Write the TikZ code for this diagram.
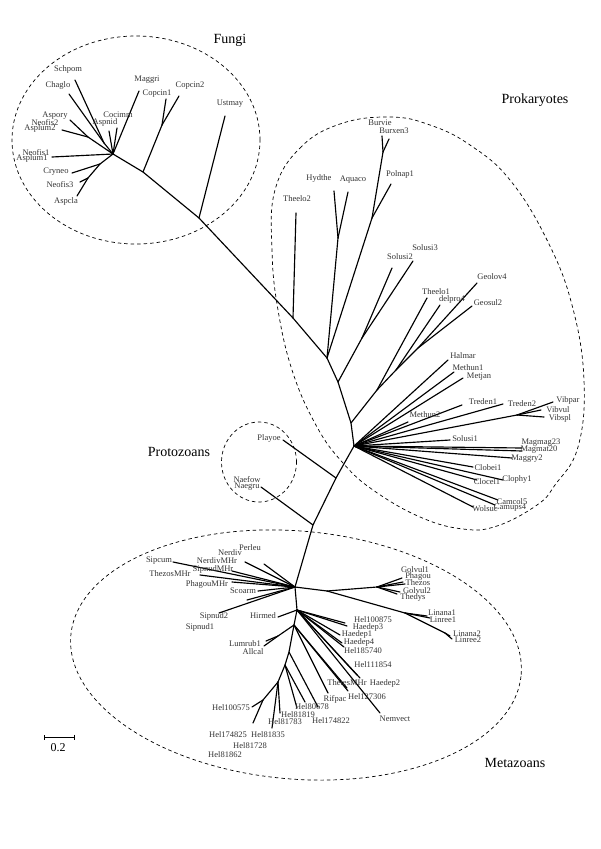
\documentclass[tikz,border=0pt]{standalone}
\usepackage{fontspec}
\setmainfont{Liberation Serif}
\usetikzlibrary{arrows.meta, positioning}
\tikzset{
        branch/.style={line width=1.15pt, line cap=round, line join=round},
        taxon/.style={font=\fontsize{8.5}{9}\selectfont, text=black!80, inner sep=0pt},
        group/.style={font=\fontsize{14}{16}\selectfont, inner sep=0pt},
        clade/.style={line width=0.7pt, dash pattern=on 3.5pt off 3pt}
        }

\begin{document}
\begin{tikzpicture}[x=1pt, y=-1pt]
\useasboundingbox (0,0) rectangle (600,849);

% dashed clade outlines
\draw[clade] (136,140) ellipse [x radius=124pt, y radius=104pt];
\draw[clade] plot[smooth cycle, tension=0.7] coordinates {(275,190) (300,148) (340,124) (390,117)
        (430,125) (470,145) (510,180) (547,240) (572,305) (584,380) (578,447) (555,485) (537,505)
        (497,526) (463,529) (420,517) (373,490) (343,463) (317,427) (293,373) (278,310) (272,250)};
\draw[clade] (259,462) ellipse [x radius=37.5pt, y radius=40pt];
\draw[clade, rotate around={-5:(296,655)}] (296,655) ellipse [x radius=226pt, y radius=124pt];

% group names
\node[group] (fungi) at (230,40) {Fungi};
\node[group] (prok) at (535,100) {Prokaryotes};
\node[group] (proto) at (179,452) {Protozoans};
\node[group] (meta) at (515,763) {Metazoans};

% inner nodes
\coordinate (F0) at (113,154);  \coordinate (F1) at (143,172);  \coordinate (F2) at (199,218);
\coordinate (P1) at (293,318);  \coordinate (P2) at (327,358);  \coordinate (P3) at (338,382);
\coordinate (P4) at (351,423);  \coordinate (P5) at (354,446);
\coordinate (Z1) at (336,478);  \coordinate (Z2) at (313,525);
\coordinate (M1) at (295,587);  \coordinate (M2) at (297,610);  \coordinate (M3) at (294,625);
\coordinate (M4) at (289,652);  \coordinate (M5) at (285,665);  \coordinate (M6) at (278,682);
\coordinate (fa) at (104,143);  \coordinate (fb) at (88,137);   \coordinate (fc) at (100,164);
\coordinate (fd) at (88,178);   \coordinate (fe) at (162,125);
\coordinate (ph) at (338,238);  \coordinate (pp) at (372,218);  \coordinate (pb) at (383,152);
\coordinate (ps) at (362,338);  \coordinate (pt) at (377,390);  \coordinate (pd) at (396,370);
\coordinate (pg) at (418,348);  \coordinate (pv) at (517,415);
\coordinate (ml) at (327,591);  \coordinate (mg) at (377,587);  \coordinate (mn) at (405,613);
\coordinate (mn2) at (445,633); \coordinate (mr) at (278,636);  \coordinate (mx) at (263,700);

% leaves
\foreach \n/\p in {Schpom/{75,80}, Chaglo/{69,94}, Aspory/{70,120}, Asplum2/{62,130},
        Aspnid/{109,131}, Cocimm/{117,128}, Maggri/{139,91}, Neofis1/{52,157}, Cryneo/{72,173},
        Neofis3/{80,182}, Aspcla/{77,196}, Copcin1/{166,99}, Copcin2/{179,96}, Ustmay/{225,116},
        Theelo2/{296,213}, Hydthe/{334,191}, Aquaco/{348,192}, Polnap1/{391,184}, Burvie/{382,136},
        Burxen3/{389,139}, Solusi2/{392,268}, Solusi3/{413,261}, Theelo1/{427,298}, delpro4/{440,305},
        Geolov4/{477,283}, Geosul2/{472,306}, Halmar/{448,360}, Methun1/{454,372}, Metjan/{463,378},
        Treden1/{462,405}, Treden2/{503,404}, Methun2/{408,422}, Vibpar/{553,402}, Vibvul/{541,410},
        Vibspl/{544,417}, Solusi1/{450,440}, Magmag23/{522,448}, Magmat20/{522,451}, Maggry2/{512,458},
        Clobei1/{473,467}, Clophy1/{503,480}, Clocel1/{477,480}, Camcol5/{498,500}, Camups4/{495,505},
        Wolsuc/{473,507}, Playoe/{283,440}, Naegru/{261,487},
        Perleu/{264,564}, NerdivMHr/{245,562}, Sipcum/{173,562}, SipnudMHr/{232,571},
        ThezosMHr/{200,575}, PhagouMHr/{232,582}, Scoarm/{258,591}, Sipnud2/{247,600}, Sipnud1/{219,613},
        Golvul1/{402,578}, Phagou/{403,582}, Thezos/{405,584}, Golvul2/{400,592}, Thedys/{397,594},
        Linana1/{427,616}, Linree1/{430,618}, Linana2/{450,636}, Linree2/{452,639}, Hirmed/{278,617},
        Hel100875/{345,623}, Haedep3/{347,626}, Haedep1/{340,635}, Haedep4/{342,643},
        Hel185740/{344,647}, Hel111854/{357,675}, Haedep2/{360,678}, Nemvect/{380,713},
        ThetesMHr/{347,688}, Hel127306/{348,691}, Rifpac/{328,693}, Lumrub1/{266,641}, Allcal/{264,646},
        Hel174822/{318,707}, Hel80678/{305,702}, Hel81819/{297,708}, Hel81783/{280,713},
        Hel81835/{272,728}, Hel100575/{252,707}, Hel174825/{253,723}}
  \coordinate (t\n) at (\p);

% branches
\draw[branch] (F0) -- (F1) -- (F2) -- (P1) -- (P2) -- (P3) -- (P4) -- (P5) -- (Z1) -- (Z2)
        -- (M1) -- (M2) -- (M3) -- (M4) -- (M5) -- (M6);
\foreach \a/\b in {F0/fa, fa/tSchpom, fa/tChaglo, F0/fb, fb/tAspory, fb/tAsplum2, F0/tAspnid,
        F0/tCocimm, F0/tMaggri, F0/tNeofis1, F0/fc, fc/tCryneo, fc/fd, fd/tNeofis3, fd/tAspcla,
        F1/fe, fe/tCopcin1, fe/tCopcin2, F2/tUstmay,
        P1/tTheelo2, P2/ph, ph/tHydthe, ph/tAquaco, P2/pp, pp/tPolnap1, pp/pb, pb/tBurvie,
        pb/tBurxen3, P3/ps, ps/tSolusi2, ps/tSolusi3, P4/pt, pt/tTheelo1, pt/pd, pd/tdelpro4,
        pd/pg, pg/tGeolov4, pg/tGeosul2, P5/pv, pv/tVibpar, pv/tVibvul, pv/tVibspl,
        Z1/tPlayoe, Z2/tNaegru,
        M1/ml, ml/mg, ml/mn, mn/tLinana1, mn/tLinree1, mn/mn2, mn2/tLinana2, mn2/tLinree2,
        M2/tHirmed, M3/mr, mr/tLumrub1, mr/tAllcal, M4/tHel174822, M5/tHel80678, M5/tHel81819,
        M6/tHel81783, M6/tHel81835, M6/mx, mx/tHel100575, mx/tHel174825}
  \draw[branch] (\a) -- (\b);
\foreach \t in {Halmar, Methun1, Metjan, Treden1, Treden2, Methun2, Solusi1, Magmag23, Magmat20,
        Maggry2, Clobei1, Clophy1, Clocel1, Camcol5, Camups4, Wolsuc}
  \draw[branch] (P5) -- (t\t);
\foreach \t in {Perleu, NerdivMHr, Sipcum, SipnudMHr, ThezosMHr, PhagouMHr, Scoarm, Sipnud2, Sipnud1}
  \draw[branch] (M1) -- (t\t);
\foreach \t in {Golvul1, Phagou, Thezos, Golvul2, Thedys}
  \draw[branch] (mg) -- (t\t);
\foreach \t in {Hel100875, Haedep3, Haedep1, Haedep4, Hel185740, Hel111854, Haedep2, Nemvect}
  \draw[branch] (M2) -- (t\t);
\foreach \t in {ThetesMHr, Hel127306, Rifpac}
  \draw[branch] (M3) -- (t\t);

% taxon names
\foreach \n/\p in {Schpom/{68,69}, Chaglo/{58,85}, Aspory/{55,116}, Neofis2/{45,123},
        Asplum2/{40,128}, Aspnid/{105,122}, Cocimm/{118,115}, Maggri/{147,80}, Copcin1/{157,94},
        Copcin2/{190,86}, Ustmay/{230,104}, Neofis1/{36,153}, Asplum1/{32,158}, Cryneo/{56,172},
        Neofis3/{60,185}, Aspcla/{66,201},
        Theelo2/{297,199}, Hydthe/{319,178}, Aquaco/{353,180}, Polnap1/{400,174}, Burvie/{380,123},
        Burxen3/{394,131}, Solusi2/{400,257}, Solusi3/{425,248}, Theelo1/{436,292}, delpro4/{452,299},
        Geolov4/{492,277}, Geosul2/{488,303}, Halmar/{463,356}, Methun1/{468,368}, Metjan/{479,377},
        Treden1/{483,402}, Treden2/{522,404}, Methun2/{425,415}, Vibpar/{568,400}, Vibvul/{558,410},
        Vibspl/{560,418}, Solusi1/{465,439}, Magmag23/{541,443}, Magmat20/{539,450}, Maggry2/{527,459},
        Clobei1/{488,468}, Clophy1/{517,479}, Clocel1/{487,482}, Camcol5/{512,502}, Camups4/{510,508},
        Wolsuc/{485,509}, Playoe/{269,438}, Naefow/{247,480}, Naegru/{247,487},
        Perleu/{250,548}, Nerdiv/{230,553}, NerdivMHr/{217,561}, Sipcum/{159,561}, SipnudMHr/{213,569},
        ThezosMHr/{170,574}, PhagouMHr/{207,584}, Scoarm/{243,591}, Sipnud2/{214,616}, Sipnud1/{200,627},
        Golvul1/{415,570}, Phagou/{418,576}, Thezos/{418,583}, Golvul2/{417,591}, Thedys/{413,597},
        Linana1/{442,613}, Linree1/{443,620}, Linana2/{467,634}, Linree2/{468,640}, Hirmed/{263,616},
        Hel100875/{373,620}, Haedep3/{368,627}, Haedep1/{357,634}, Haedep4/{359,642}, Hel185740/{363,651},
        Hel111854/{373,665}, ThetesMHr/{347,683}, Haedep2/{385,683}, Rifpac/{335,699}, Hel127306/{367,697},
        Nemvect/{395,719}, Lumrub1/{245,644}, Allcal/{253,652}, Hel80678/{312,707}, Hel81819/{298,715},
        Hel81783/{285,722}, Hel174822/{331,721}, Hel100575/{231,708}, Hel174825/{228,735},
        Hel81835/{268,735}, Hel81728/{250,746}, Hel81862/{225,755}}
  \node[taxon] (\n) at (\p) {\n};

% scale bar
\coordinate (s0) at (44,737);
\coordinate (s1) at (75,737);
\draw[line width=0.8pt, {Bar[width=5pt]}-{Bar[width=5pt]}] (s0) -- (s1);
\node[font=\fontsize{12}{14}\selectfont, inner sep=0pt] (scale) at (58,748) {0.2};
\end{tikzpicture}
\end{document}
